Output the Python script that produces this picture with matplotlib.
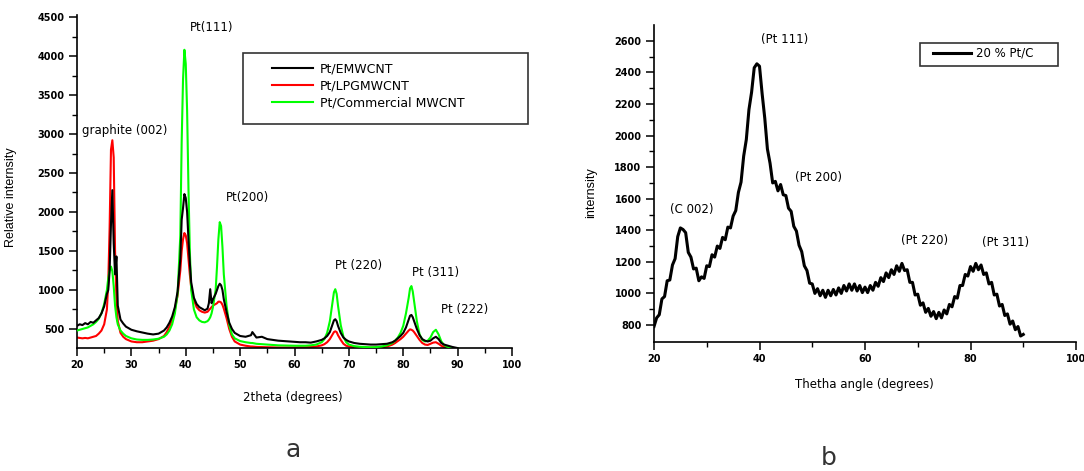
import matplotlib
matplotlib.use("Agg")
from matplotlib import pyplot as plt
from matplotlib.patches import Rectangle

# ---- panel a: XRD of the three supported catalysts ----
twotheta = [
  20, 20.5, 21, 21.5, 22, 22.5, 23, 23.5, 24, 24.5, 25, 25.5,
  25.75, 26, 26.25, 26.5, 26.75, 27, 27.25, 27.5,
  28, 28.5, 29, 29.5, 30, 31, 32, 33, 34, 35, 36, 36.5, 37, 37.5, 38, 38.5,
  39, 39.25, 39.5, 39.75, 40, 40.25, 40.5, 40.75, 41, 41.5,
  42, 42.5, 43, 43.5, 44, 44.25, 44.5, 44.75, 45, 45.5,
  45.75, 46, 46.25, 46.5, 46.75, 47, 47.5, 48, 48.5, 49,
  50, 51, 52, 52.25, 53, 54, 55, 56, 57, 58, 59, 60, 61, 62, 63, 64, 65,
  65.5, 66, 66.5, 67, 67.25, 67.5, 67.75, 68, 68.5, 69, 69.5, 70,
  71, 72, 73, 74, 75, 76, 77, 78, 78.5, 79, 79.5, 80,
  80.5, 81, 81.25, 81.5, 81.75, 82, 82.5, 83, 83.5, 84,
  84.5, 85, 85.5, 86, 86.5, 87, 87.5, 88, 88.5, 89, 89.5, 90]

emwcnt = [
  540, 560, 550, 575, 560, 590, 580, 610, 640, 700, 790, 950,
  1000, 1250, 1850, 2280, 1600, 1200, 1430, 800,
  620, 570, 530, 510, 490, 470, 455, 440, 430, 440, 480, 520, 580, 660, 780, 980,
  1400, 1900, 2050, 2230, 2180, 2000, 1650, 1350, 1100, 900,
  820, 780, 760, 740, 760, 830, 1010, 830, 880, 950,
  1000, 1050, 1080, 1060, 1000, 880, 720, 580, 500, 450,
  410, 400, 420, 460, 390, 400, 370, 360, 350, 345, 340, 335, 330, 330, 325, 340, 360,
  380, 410, 460, 560, 610, 625, 600, 540, 450, 390, 360, 340,
  320, 310, 305, 300, 300, 305, 310, 330, 350, 380, 410, 450,
  520, 620, 670, 680, 650, 600, 500, 420, 370, 350,
  340, 350, 380, 400, 370, 320, 300, 290, 280, 270, 262, 255]

lpgmwcnt = [
  390, 385, 380, 385, 380, 390, 400, 410, 440, 480, 560, 750,
  1100, 1800, 2800, 2920, 2700, 1500, 900, 600,
  450, 400, 370, 355, 340, 330, 330, 340, 350, 370, 410, 460, 530, 620, 750, 930,
  1250, 1500, 1650, 1730, 1700, 1600, 1400, 1200, 1030, 870,
  780, 740, 720, 710, 720, 740, 760, 780, 800, 820,
  830, 850, 850, 840, 810, 760, 640, 500, 400, 340,
  300, 285, 275, 275, 270, 268, 265, 265, 262, 262, 262, 262, 265, 265, 268, 275, 290,
  305, 330, 370, 430, 460, 470, 460, 420, 360, 310, 285, 275,
  265, 262, 260, 260, 262, 265, 275, 300, 320, 345, 370, 400,
  440, 480, 495, 490, 480, 460, 410, 360, 320, 300,
  295, 310, 325, 330, 310, 285, 270, 262, 258, 255, 252, 250]

commercial = [
  480, 490, 500, 510, 520, 540, 560, 590, 630, 700, 820, 1000,
  1150, 1250, 1300, 1240, 1050, 800, 650, 560,
  480, 440, 410, 395, 380, 365, 360, 360, 365, 375, 400, 430, 480, 560, 700, 950,
  1700, 2900, 3700, 4080, 3900, 3300, 2300, 1500, 1000, 750,
  650, 610, 590, 585, 600, 620, 650, 700, 780, 1000,
  1300, 1650, 1870, 1820, 1550, 1200, 800, 550, 430, 380,
  345, 330, 320, 320, 310, 305, 300, 295, 290, 288, 285, 285, 285, 285, 290, 300, 330,
  370, 450, 600, 850, 970, 1010, 950, 800, 550, 400, 330, 300,
  280, 272, 268, 265, 268, 275, 290, 320, 350, 390, 450, 540,
  700, 900, 1020, 1050, 980, 850, 600, 430, 360, 340,
  350, 390, 460, 490, 430, 340, 295, 275, 265, 258, 254, 250]

series_names = ["Pt/EMWCNT", "Pt/LPGMWCNT", "Pt/Commercial MWCNT"]
series_colors = ["black", "red", "lime"]

peak_labels_a = ["graphite (002)", "Pt(111)", "Pt(200)", "Pt (220)", "Pt (311)", "Pt (222)"]
peak_x_a = [21.0, 40.8, 47.4, 67.4, 81.6, 86.9]
peak_y_a = [3050, 4370, 2180, 1320, 1230, 745]

# ---- panel b: 20 % Pt/C ----
theta_b = [
  20, 20.5, 21, 21.5, 22, 22.5, 23, 23.5, 24, 24.5, 25, 25.5, 26, 26.5, 27, 27.5,
  28, 28.5, 29, 29.5, 30, 30.5, 31, 31.5, 32, 32.5, 33, 33.5, 34, 34.5, 35, 35.5,
  36, 36.5, 37, 37.5, 38, 38.5, 39, 39.5, 40, 40.5, 41, 41.5, 42, 42.5, 43, 43.5,
  44, 44.5, 45, 45.5, 46, 46.5, 47, 47.5, 48, 48.5, 49, 49.5, 50, 50.5, 51, 51.5,
  52, 52.5, 53, 53.5, 54, 54.5, 55, 55.5, 56, 56.5, 57, 57.5, 58, 58.5, 59, 59.5,
  60, 60.5, 61, 61.5, 62, 62.5, 63, 63.5, 64, 64.5, 65, 65.5, 66, 66.5, 67, 67.5,
  68, 68.5, 69, 69.5, 70, 70.5, 71, 71.5, 72, 72.5, 73, 73.5, 74, 74.5, 75, 75.5,
  76, 76.5, 77, 77.5, 78, 78.5, 79, 79.5, 80, 80.5, 81, 81.5, 82, 82.5, 83, 83.5,
  84, 84.5, 85, 85.5, 86, 86.5, 87, 87.5, 88, 88.5, 89, 89.5, 90]

ptc_20 = [
  790, 845, 865, 965, 980, 1080, 1085, 1180, 1220, 1360, 1415, 1405, 1385, 1260, 1230, 1155,
  1160, 1080, 1105, 1095, 1175, 1170, 1245, 1230, 1300, 1285, 1355, 1340, 1420, 1415, 1490, 1525,
  1640, 1705, 1870, 1975, 2165, 2275, 2430, 2455, 2440, 2265, 2110, 1915, 1825, 1700, 1710, 1650,
  1690, 1625, 1620, 1540, 1520, 1425, 1395, 1305, 1265, 1175, 1145, 1065, 1060, 1000, 1030, 985,
  1020, 975, 1020, 985, 1025, 990, 1035, 1000, 1050, 1015, 1060, 1020, 1060, 1015, 1050, 1005,
  1040, 1005, 1050, 1020, 1070, 1045, 1100, 1075, 1130, 1100, 1150, 1120, 1175, 1140, 1190, 1145,
  1150, 1070, 1070, 990, 995, 925, 940, 880, 905, 855, 885, 840, 880, 845, 895, 870,
  930, 915, 980, 970, 1050, 1050, 1120, 1110, 1170, 1140, 1190, 1150, 1180, 1120, 1130, 1060,
  1070, 990, 995, 920, 930, 860, 870, 805, 825, 770, 790, 730, 740]

peak_labels_b = ["(C 002)", "(Pt 111)", "(Pt 200)", "(Pt 220)", "(Pt 311)"]
peak_x_b = [23.0, 40.2, 46.7, 66.9, 82.1]
peak_y_b = [1534, 2610, 1737, 1338, 1325]

assert len(twotheta) == len(emwcnt) == len(lpgmwcnt) == len(commercial)
assert len(theta_b) == len(ptc_20)

W, H = 1084, 471
fig = plt.figure(figsize=(W / 100, H / 100), dpi=100)


def style_axes(ax):
  ax.spines['top'].set_visible(False)
  ax.spines['right'].set_visible(False)
  for s in ('left', 'bottom'):
    ax.spines[s].set_linewidth(1.2)
  ax.tick_params(which='major', direction='out', length=6, width=1.1, pad=3)
  ax.tick_params(which='minor', direction='out', length=3.5, width=1.0)
  for lbl in ax.get_xticklabels() + ax.get_yticklabels():
    lbl.set_fontsize(7)
    lbl.set_fontweight('bold')


def px_axes(x0, y0, x1, y1):
  return fig.add_axes([x0 / W, 1 - y1 / H, (x1 - x0) / W, (y1 - y0) / H])


def px_box(x0, y0, x1, y1):
  fig.patches.append(Rectangle((x0 / W, 1 - y1 / H), (x1 - x0) / W, (y1 - y0) / H,
                               transform=fig.transFigure, fill=False,
                               edgecolor='#333333', linewidth=1.2))


# panel a
ax1 = px_axes(77, 15, 512, 348)
all_y = [emwcnt, lpgmwcnt, commercial]
zorders = [4, 2, 3]
for yv, name, col, z in zip(all_y, series_names, series_colors, zorders):
  ax1.plot(twotheta, yv, color=col, linewidth=1.5, label=name, zorder=z)
ax1.set_xlim(20, 100)
ax1.set_ylim(256, 4526)
ax1.set_xticks(range(20, 101, 10))
ax1.set_xticks(range(25, 100, 10), minor=True)
ax1.set_yticks(range(500, 4501, 500))
ax1.set_yticks(range(750, 4500, 500), minor=True)
style_axes(ax1)
ax1.set_ylabel("Relative internsity", fontsize=9, family='Liberation Sans')
ax1.yaxis.set_label_coords(-0.138, 0.453)
ax1.set_xlabel("2theta (degrees)", fontsize=8.5)
ax1.xaxis.set_label_coords(0.497, -0.129)
for s, x, y in zip(peak_labels_a, peak_x_a, peak_y_a):
  ax1.text(x, y, s, fontsize=8.5, ha='left', va='center')

ax1.legend(loc='upper left', bbox_to_anchor=(272 / W, 1 - 62 / H),
           bbox_transform=fig.transFigure, frameon=False, fontsize=9,
           borderpad=0, borderaxespad=0, handlelength=3.3,
           handletextpad=0.5, labelspacing=0.35)
px_box(243, 53, 528, 124)

# panel b
ax2 = px_axes(654, 25, 1076, 342)
ax2.plot(theta_b, ptc_20, color='black', linewidth=2.2, label="20 % Pt/C")
ax2.set_xlim(20, 100)
ax2.set_ylim(692, 2701)
ax2.set_xticks(range(20, 101, 20))
ax2.set_xticks(range(30, 100, 20), minor=True)
ax2.set_yticks(range(800, 2601, 200))
ax2.set_yticks(range(900, 2700, 200), minor=True)
style_axes(ax2)
ax2.set_ylabel("internsity", fontsize=9, family='Liberation Sans')
ax2.yaxis.set_label_coords(-0.135, 0.47)
ax2.set_xlabel("Thetha angle (degrees)", fontsize=8.5)
ax2.xaxis.set_label_coords(0.499, -0.114)
for s, x, y in zip(peak_labels_b, peak_x_b, peak_y_b):
  ax2.text(x, y, s, fontsize=8.5, ha='left', va='center')

ax2.legend(loc='upper left', bbox_to_anchor=(933 / W, 1 - 47 / H),
           bbox_transform=fig.transFigure, frameon=False, fontsize=8.5,
           borderpad=0, borderaxespad=0, handlelength=3.2, handletextpad=0.4)
px_box(920, 43, 1058, 66)

fig.text(293 / W, 1 - 450 / H, "a", fontsize=18, color='#333333', ha='center', va='center')
fig.text(829 / W, 1 - 458 / H, "b", fontsize=18, color='#333333', ha='center', va='center')

fig.savefig("out.png", dpi=100)
